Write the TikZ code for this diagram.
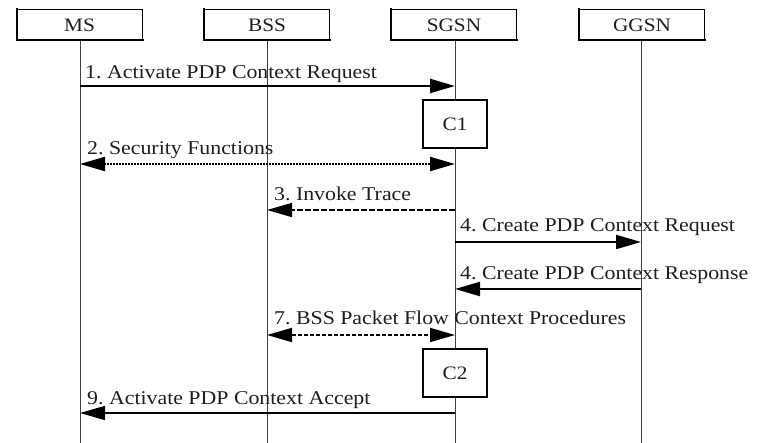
\documentclass[tikz,border=0pt]{standalone}
\usepackage{fontspec}
\setmainfont{Liberation Serif}[FakeStretch=1.12]
\usetikzlibrary{arrows.meta}
\frenchspacing
\definecolor{ink}{RGB}{30,30,30}
\tikzset{
  ent/.style={draw=black, line width=1pt, minimum width=125pt, minimum height=30pt, inner sep=0pt, fill=white, text=ink, font=\fontsize{19}{21}\selectfont},
  cond/.style={draw=black, line width=2pt, minimum width=64pt, minimum height=48pt, inner sep=0pt, fill=white, text=ink, font=\fontsize{19}{21}\selectfont},
  life/.style={draw=black!75, line width=1pt},
  lbl/.style={anchor=base west, inner sep=0pt, text=ink, font=\fontsize{19.5}{22}\selectfont},
  tip/.style={-{Triangle[length=25pt,width=14pt]}},
  tips/.style={{Triangle[length=25pt,width=14pt]}-{Triangle[length=25pt,width=14pt]}},
  msg/.style={line width=2.3pt, tip},
  thinmsg/.style={line width=1.5pt, tip},
  dashmsg/.style={line width=1.5pt, tip, dash pattern=on 6pt off 2pt},
  dotmsg/.style={line width=2.2pt, tips, dash pattern=on 2pt off 1pt},
  dash2msg/.style={line width=1.8pt, tips, dash pattern=on 4pt off 2pt},
}
\begin{document}
\begin{tikzpicture}[x=1pt,y=-1pt]
\useasboundingbox (0,0) rectangle (758,443);
% lifelines
\coordinate (msB) at (80,443);
\coordinate (bssB) at (267,443);
\coordinate (sgsnB) at (455,443);
\coordinate (ggsnB) at (641,443);
\draw[life] (80,40) -- (msB);
\draw[life] (267,40) -- (bssB);
\draw[life] (455,40) -- (sgsnB);
\draw[life] (641,40) -- (ggsnB);
% entities
\node[ent] (ms) at (79.5,25) {MS};
\node[ent] (bss) at (267,25) {BSS};
\node[ent] (sgsn) at (454,25) {SGSN};
\node[ent] (ggsn) at (642,25) {GGSN};
\foreach \n in {ms,bss,sgsn,ggsn}{
  \draw[line width=2pt,line cap=rect] (\n.north west) -- (\n.south west) -- (\n.south east);
}
% message anchor points
\coordinate (ms1) at (80,86);   \coordinate (sg1) at (455,86);
\coordinate (ms2) at (80,164);  \coordinate (sg2) at (455,164);
\coordinate (sg3) at (455,210); \coordinate (bs3) at (267,210);
\coordinate (sg4) at (455,242); \coordinate (gg4) at (641,242);
\coordinate (gg5) at (641,289); \coordinate (sg5) at (455,289);
\coordinate (bs7) at (267,335); \coordinate (sg7) at (455,335);
\coordinate (sg9) at (455,413); \coordinate (ms9) at (80,413);
% conditions
\node[cond] (c1) at (455,124.5) {C1};
\node[cond] (c2) at (455,373.5) {C2};
% messages
\draw[msg] (ms1) -- (sg1);
\node[lbl] (l1) at (85,79) {1. Activate PDP Context Request};
\draw[dotmsg] (ms2) -- (sg2);
\node[lbl] (l2) at (87,155) {2. Security Functions};
\draw[dashmsg] (sg3) -- (bs3);
\node[lbl] (l3) at (274,201) {3. Invoke Trace};
\draw[msg] (sg4) -- (gg4);
\node[lbl] (l4) at (460,232) {4. Create PDP Context Request};
\draw[msg] (gg5) -- (sg5);
\node[lbl] (l5) at (460,280) {4. Create PDP Context Response};
\draw[dash2msg] (bs7) -- (sg7);
\node[lbl] (l7) at (274,325) {7. BSS Packet Flow Context Procedures};
\draw[thinmsg] (sg9) -- (ms9);
\node[lbl] (l9) at (87,405) {9. Activate PDP Context Accept};
\end{tikzpicture}
\end{document}
